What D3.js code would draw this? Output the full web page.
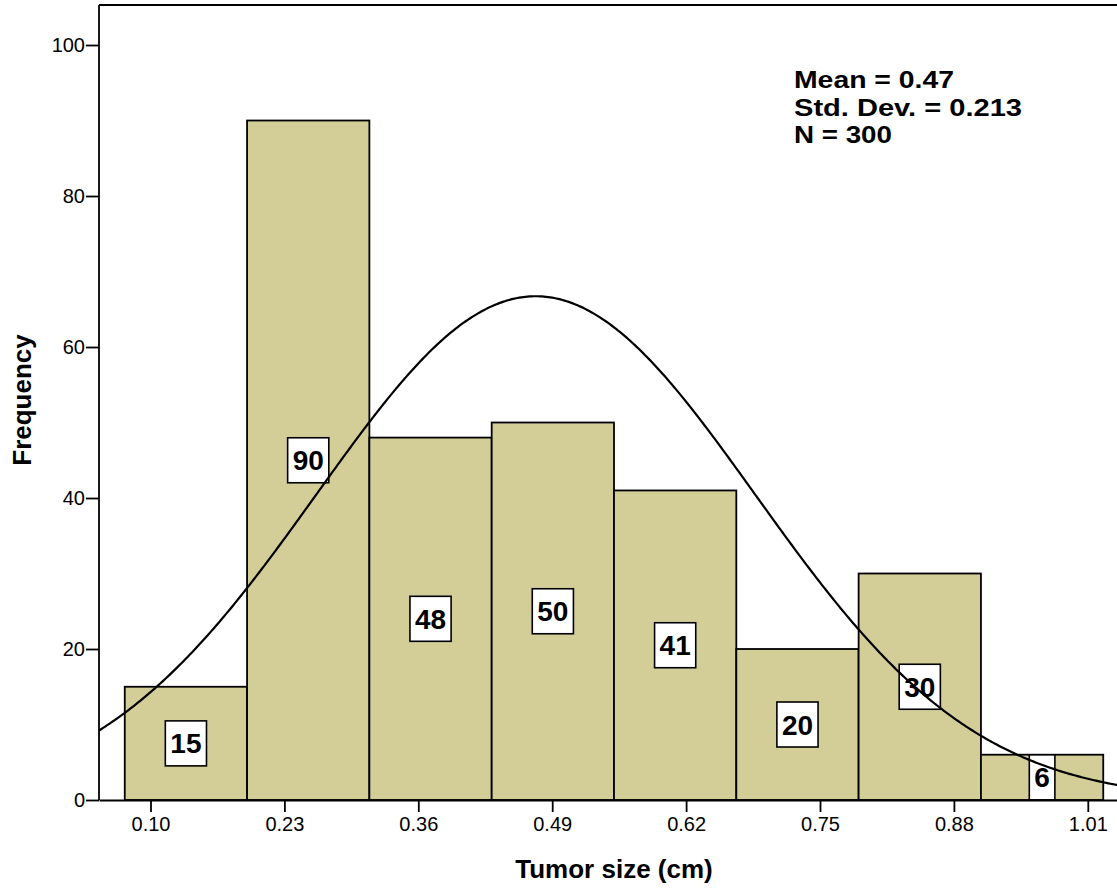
<!DOCTYPE html>
<meta charset="utf-8">
<style>
 body { margin: 0; background: #fff; }
 svg text { font-family: "Liberation Sans", Arial, sans-serif; fill: #000; }
 .bar { fill: #d3ce98; stroke: #000; stroke-width: 1.8px; }
 .lbl rect { fill: #fff; stroke: #000; stroke-width: 1.6px; }
 .lbl text { font-size: 28px; font-weight: bold; }
 .axis text { font-size: 20px; }
 .axis line, .axis path { stroke: #000; stroke-width: 1.8px; }
 .frame { stroke: #000; stroke-width: 1.8px; fill: none; }
 .curve { fill: none; stroke: #000; stroke-width: 2.2px; }
 .title { font-size: 26px; font-weight: bold; }
 .stats { font-size: 24px; font-weight: bold; }
</style>

<svg id="chart"></svg>

<script src="https://cdn.jsdelivr.net/npm/d3@7"></script>
<script>

 // histogram data (tumor size, cm)
 var counts = [15, 90, 48, 50, 41, 20, 30, 6];
 var binStart = 0.075;
 var binWidth = 0.11875;

 var xTicks = [0.10, 0.23, 0.36, 0.49, 0.62, 0.75, 0.88, 1.01];
 var yTicks = [0, 20, 40, 60, 80, 100];

 var meanValue = 0.474;
 var sdValue = 0.213;
 var nValue = 300;

 var width = 1117, height = 888;
 var plotLeft = 99, plotTop = 5, plotBottom = 800, plotRight = 1129;

 var svg = d3.select("#chart").attr("width", width).attr("height", height);

 var x = d3.scaleLinear().domain([0.05, 1.05]).range([plotLeft, plotRight]);
 var y = d3.scaleLinear().domain([0, 105.3]).range([plotBottom, plotTop]);

 svg.append("defs").append("clipPath").attr("id", "plot")
    .append("rect").attr("x", plotLeft).attr("y", plotTop)
    .attr("width", plotRight - plotLeft).attr("height", plotBottom - plotTop);

 var bins = counts.map(function(c, i) {
     return {x0: binStart + i * binWidth, x1: binStart + (i + 1) * binWidth, n: c};
 });

 svg.selectAll(".bar").data(bins).enter()
    .append("rect").attr("class", "bar")
    .attr("x", function(d) { return x(d.x0); })
    .attr("y", function(d) { return y(d.n); })
    .attr("width", function(d) { return x(d.x1) - x(d.x0); })
    .attr("height", function(d) { return y(0) - y(d.n); });

 // count labels in white boxes at bar mid height
 var lbl = svg.selectAll(".lbl").data(bins).enter()
    .append("g").attr("class", "lbl")
    .attr("transform", function(d) {
        return "translate(" + x((d.x0 + d.x1) / 2) + "," + y(d.n / 2) + ")";
    });

 lbl.append("rect");
 lbl.append("text").attr("text-anchor", "middle").attr("dy", "0.36em")
    .text(function(d) { return d.n; });

 lbl.each(function() {
     var g = d3.select(this);
     var w = g.select("text").node().getComputedTextLength() + 10;
     g.select("rect").attr("x", -w / 2).attr("y", -22.5).attr("width", w).attr("height", 45);
 });

 // normal curve scaled to counts
 var peak = nValue * binWidth / (sdValue * Math.sqrt(2 * Math.PI));
 var pts = d3.range(0.05, 1.0501, 0.002).map(function(v) {
     var z = (v - meanValue) / sdValue;
     return [v, peak * Math.exp(-0.5 * z * z)];
 });

 svg.append("path").attr("class", "curve").attr("clip-path", "url(#plot)")
    .attr("d", d3.line().x(function(d) { return x(d[0]); }).y(function(d) { return y(d[1]); })(pts));

 // frame line at top
 svg.append("line").attr("class", "frame")
    .attr("x1", plotLeft).attr("x2", plotRight).attr("y1", plotTop).attr("y2", plotTop);

 svg.append("g").attr("class", "axis")
    .attr("transform", "translate(0," + plotBottom + ")")
    .call(d3.axisBottom(x).tickValues(xTicks).tickFormat(d3.format(".2f"))
          .tickSize(12).tickSizeOuter(0).tickPadding(5));

 var yAxis = svg.append("g").attr("class", "axis")
    .attr("transform", "translate(" + plotLeft + ",0)")
    .call(d3.axisLeft(y).tickValues(yTicks).tickSize(13).tickSizeOuter(0).tickPadding(1));
 yAxis.select(".domain").attr("d", "M0," + plotTop + "V" + plotBottom);

 svg.append("text").attr("class", "title").attr("text-anchor", "middle")
    .attr("transform", "translate(31,400) rotate(-90)").text("Frequency");

 svg.append("text").attr("class", "title").attr("text-anchor", "middle")
    .attr("x", 614).attr("y", 878).text("Tumor size (cm)");

 var statLines = [
     {t: "Mean = " + d3.format(".2f")(meanValue), w: 160},
     {t: "Std. Dev. = " + d3.format(".3f")(sdValue), w: 228},
     {t: "N = " + nValue, w: 98}
 ];

 svg.selectAll(".stats").data(statLines).enter()
    .append("text").attr("class", "stats")
    .attr("x", 794).attr("y", function(d, i) { return 88 + i * 27.6; })
    .attr("textLength", function(d) { return d.w; })
    .attr("lengthAdjust", "spacingAndGlyphs")
    .text(function(d) { return d.t; });

</script>
